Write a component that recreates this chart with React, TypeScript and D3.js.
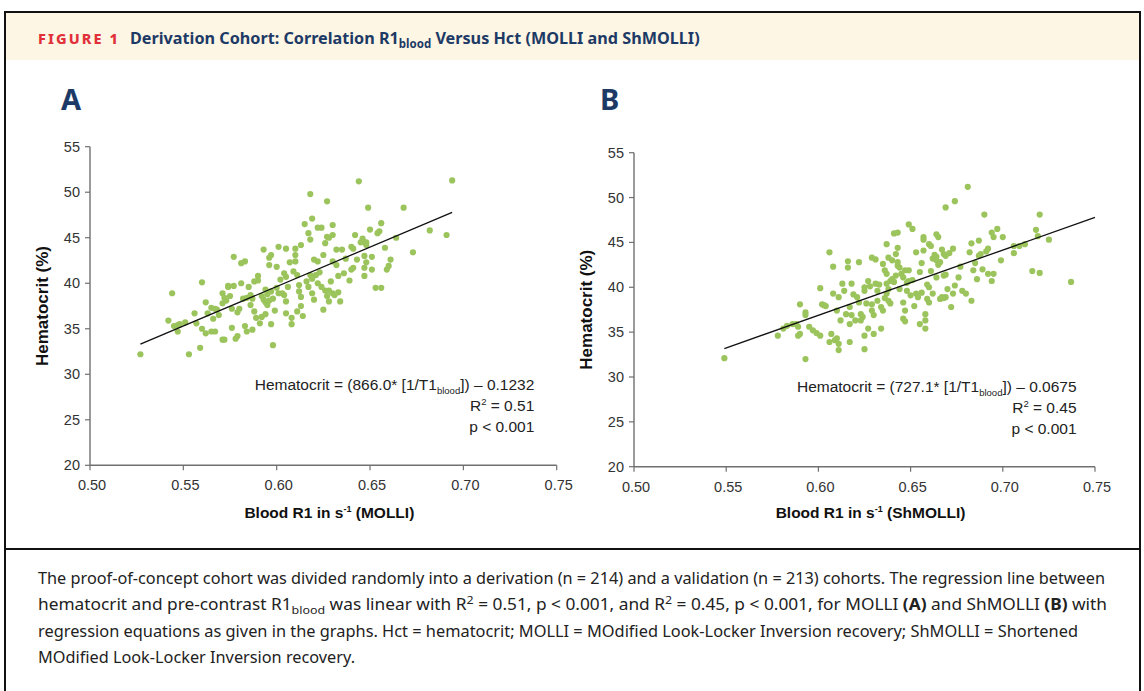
import React from "react";
import * as d3 from "d3";

// ---------- data ----------
const molliR1 = [
  0.527, 0.544, 0.542, 0.545, 0.547, 0.548, 0.547, 0.551, 0.553, 0.559, 0.560, 0.557, 0.560, 0.562, 0.563, 0.565,
  0.567, 0.568, 0.566, 0.565, 0.567, 0.571, 0.572, 0.573, 0.574, 0.571, 0.571, 0.572, 0.577, 0.574, 0.577, 0.576,
  0.578, 0.579, 0.576, 0.580, 0.581, 0.581, 0.583, 0.582, 0.584, 0.583, 0.584, 0.586, 0.587, 0.588, 0.589, 0.587,
  0.590, 0.590, 0.593, 0.592, 0.591, 0.594, 0.595, 0.594, 0.595, 0.596, 0.597, 0.596, 0.597, 0.596, 0.597, 0.598,
  0.601, 0.600, 0.601, 0.603, 0.604, 0.605, 0.604, 0.605, 0.605, 0.605, 0.608, 0.608, 0.610, 0.610, 0.610, 0.613,
  0.612, 0.612, 0.613, 0.613, 0.614, 0.615, 0.617, 0.618, 0.619, 0.618, 0.618, 0.619, 0.621, 0.622, 0.619, 0.620,
  0.622, 0.624, 0.620, 0.622, 0.625, 0.625, 0.627, 0.627, 0.628, 0.626, 0.626, 0.628, 0.627, 0.628, 0.630, 0.630,
  0.630, 0.630, 0.631, 0.632, 0.633, 0.634, 0.635, 0.636, 0.640, 0.641, 0.640, 0.641, 0.642, 0.644, 0.646, 0.647,
  0.648, 0.648, 0.645, 0.647, 0.648, 0.647, 0.647, 0.649, 0.650, 0.651, 0.651, 0.653, 0.656, 0.655, 0.654, 0.656,
  0.658, 0.659, 0.660, 0.661, 0.664, 0.668, 0.673, 0.682, 0.691, 0.694,
  0.569, 0.575, 0.579, 0.585, 0.588, 0.592, 0.593, 0.598, 0.599, 0.602, 0.606, 0.607, 0.609, 0.611, 0.616, 0.617,
  0.623, 0.629, 0.633, 0.637, 0.639, 0.643, 0.562, 0.556, 0.586, 0.594, 0.600, 0.611, 0.624, 0.632,
];
const molliHct = [
  32.2, 38.9, 35.9, 35.3, 35.4, 35.5, 34.7, 35.7, 32.2, 32.9, 40.1, 35.6, 35.0, 34.5, 36.7, 37.3,
  37.2, 37.1, 36.1, 34.7, 34.7, 38.9, 38.4, 38.1, 39.6, 37.8, 33.8, 33.8, 42.9, 39.7, 39.7, 35.1,
  33.9, 34.2, 37.2, 37.2, 40.0, 42.2, 42.4, 38.3, 38.4, 35.3, 34.7, 38.7, 38.3, 36.9, 36.2, 34.9,
  40.8, 40.3, 43.7, 36.3, 35.6, 36.6, 38.8, 37.9, 37.6, 38.1, 39.1, 42.8, 43.1, 42.0, 35.5, 33.2,
  44.0, 39.5, 38.9, 38.9, 38.7, 43.8, 41.1, 40.7, 38.0, 36.7, 35.5, 36.2, 43.8, 43.1, 42.4, 44.2,
  39.8, 39.1, 38.5, 37.5, 36.4, 46.5, 45.5, 49.8, 47.1, 44.8, 40.9, 40.5, 40.9, 40.0, 38.9, 38.2,
  46.1, 46.1, 42.6, 42.4, 37.1, 43.1, 49.0, 45.1, 45.0, 44.4, 39.2, 39.2, 38.6, 38.0, 42.4, 46.4,
  45.3, 38.9, 38.7, 43.7, 40.8, 38.0, 43.7, 41.1, 44.0, 43.8, 41.5, 41.7, 45.3, 51.2, 44.9, 44.5,
  44.2, 44.5, 44.5, 43.0, 42.3, 41.7, 40.8, 48.3, 45.9, 42.9, 41.5, 39.5, 39.5, 45.7, 45.5, 46.6,
  43.9, 41.5, 41.9, 42.6, 45.0, 48.3, 43.4, 45.8, 45.3, 51.3,
  36.5, 38.6, 36.8, 39.6, 40.2, 38.6, 38.2, 38.3, 37.0, 40.4, 39.6, 42.3, 41.3, 40.9, 40.2, 39.6,
  41.2, 40.2, 39.0, 42.7, 40.3, 42.6, 37.9, 36.7, 37.6, 39.3, 41.8, 36.9, 39.6, 42.0,
];

const shmolliR1 = [
  0.549, 0.578, 0.581, 0.583, 0.586, 0.588, 0.589, 0.590, 0.589, 0.590, 0.593, 0.593, 0.593, 0.595, 0.597, 0.599,
  0.601, 0.601, 0.602, 0.603, 0.606, 0.607, 0.606, 0.608, 0.608, 0.610, 0.611, 0.609, 0.610, 0.611, 0.611, 0.612,
  0.613, 0.614, 0.616, 0.616, 0.617, 0.618, 0.617, 0.617, 0.618, 0.620, 0.621, 0.622, 0.622, 0.623, 0.624, 0.623,
  0.625, 0.625, 0.625, 0.625, 0.627, 0.627, 0.629, 0.629, 0.630, 0.629, 0.631, 0.630, 0.631, 0.632, 0.632, 0.634,
  0.635, 0.634, 0.635, 0.636, 0.637, 0.637, 0.637, 0.636, 0.637, 0.638, 0.638, 0.638, 0.640, 0.639, 0.640, 0.641,
  0.641, 0.642, 0.643, 0.643, 0.644, 0.643, 0.643, 0.645, 0.646, 0.647, 0.646, 0.647, 0.646, 0.647, 0.649, 0.649,
  0.649, 0.650, 0.651, 0.652, 0.653, 0.653, 0.654, 0.655, 0.656, 0.657, 0.657, 0.657, 0.658, 0.658, 0.658, 0.659,
  0.660, 0.660, 0.660, 0.661, 0.662, 0.663, 0.664, 0.664, 0.664, 0.665, 0.664, 0.666, 0.666, 0.667, 0.668, 0.669,
  0.668, 0.669, 0.668, 0.669, 0.669, 0.672, 0.673, 0.674, 0.673, 0.676, 0.678, 0.680, 0.681, 0.682, 0.683, 0.683,
  0.685, 0.687, 0.687, 0.688, 0.690, 0.689, 0.692, 0.692, 0.694, 0.695, 0.694, 0.695, 0.697, 0.699, 0.700, 0.706,
  0.706, 0.709, 0.712, 0.716, 0.718, 0.719, 0.720, 0.720, 0.725, 0.737,
  0.604, 0.615, 0.619, 0.626, 0.628, 0.633, 0.639, 0.642, 0.648, 0.651, 0.655, 0.659, 0.662, 0.665, 0.670, 0.671,
  0.674, 0.677, 0.684, 0.686, 0.691, 0.644, 0.648, 0.656, 0.661, 0.667,
];
const shmolliHct = [
  32.1, 34.6, 35.4, 35.7, 35.9, 35.9, 35.6, 34.8, 34.6, 38.1, 37.2, 36.9, 32.0, 35.6, 35.2, 34.9,
  34.6, 39.9, 38.1, 38.0, 43.9, 34.8, 33.9, 42.3, 39.3, 37.4, 38.9, 34.1, 34.3, 33.7, 33.0, 36.3,
  40.4, 39.6, 42.9, 42.2, 37.8, 36.9, 35.9, 33.9, 40.4, 36.3, 38.9, 38.3, 42.8, 37.0, 36.7, 36.3,
  39.6, 40.0, 34.6, 33.1, 35.4, 40.7, 38.1, 37.4, 36.9, 43.3, 43.1, 34.8, 40.4, 39.6, 38.5, 37.8,
  37.4, 35.4, 42.6, 41.9, 41.5, 44.8, 40.4, 38.8, 39.3, 38.5, 43.3, 39.8, 43.0, 40.7, 40.9, 40.6,
  46.0, 43.7, 42.4, 42.8, 42.2, 44.4, 46.1, 41.5, 41.1, 41.9, 38.3, 37.4, 36.5, 36.2, 47.0, 41.9,
  40.7, 39.1, 46.5, 37.9, 43.9, 39.3, 38.9, 35.9, 42.7, 45.6, 45.3, 44.1, 35.4, 36.3, 37.0, 38.7,
  38.3, 40.0, 44.8, 44.6, 43.2, 43.6, 43.4, 43.0, 45.9, 45.6, 41.1, 42.8, 38.7, 38.9, 38.8, 38.9,
  43.7, 43.5, 41.3, 41.4, 48.9, 37.8, 44.3, 49.6, 39.3, 41.1, 39.6, 39.3, 51.2, 43.9, 44.9, 38.5,
  42.7, 45.2, 43.5, 43.7, 48.1, 42.0, 44.3, 41.5, 40.7, 41.5, 46.1, 45.6, 46.5, 43.0, 45.6, 43.8,
  44.6, 44.6, 44.8, 41.8, 46.4, 45.7, 41.6, 48.1, 45.3, 40.6,
  37.9, 37.0, 39.2, 38.2, 40.1, 40.3, 38.2, 41.3, 39.6, 40.8, 41.7, 40.3, 39.3, 42.5, 39.8, 43.8,
  40.2, 42.3, 41.9, 40.9, 44.0, 39.8, 40.5, 39.4, 41.8, 44.2,
];

const xTicks = [0.5, 0.55, 0.6, 0.65, 0.7, 0.75];
const yTicks = [20, 25, 30, 35, 40, 45, 50, 55];
const xTickLabels = ["0.50", "0.55", "0.60", "0.65", "0.70", "0.75"];

// regression coefficients: Hct (fraction) = slope * [1/T1 in ms] + intercept
const molliSlope = 866.0;
const molliIntercept = -0.1232;
const shmolliSlope = 727.1;
const shmolliIntercept = -0.0675;

const DOT = "#9bc45c";
const NAVY = "#1d3a66";
const ARIAL = "'Liberation Sans', Arial, sans-serif";
const BODY = "'Noto Sans', 'Open Sans', sans-serif";

type PanelProps = {
  letter: string;
  letterX: number;
  xs: number[];
  ys: number[];
  slope: number;
  intercept: number;
  xRange: [number, number];
  yRange: [number, number];
  lineEnd: number;
  method: string;
  yTitleX: number;
  annRight: number;
  annBase: number;
  coefText: string;
  interceptText: string;
  r2: string;
};

function Panel(p: PanelProps) {
  const x = d3.scaleLinear().domain([0.5, 0.75]).range(p.xRange);
  const y = d3.scaleLinear().domain([20, 55]).range(p.yRange);
  const reg = (r1: number) => (p.slope * (r1 / 1000) + p.intercept) * 100;
  const x0 = d3.min(p.xs) as number;
  const line = d3.line<number>().x((d) => x(d)).y((d) => y(reg(d)));
  const axisColor = "#707070";
  const left = p.xRange[0];
  const bottom = p.yRange[0];
  const annX = x(p.annRight);
  const annY = y(p.annBase);
  const fs = 15.5;
  return (
    <g>
      <text x={p.letterX} y={110} fontFamily={BODY} fontWeight={700} fontSize={29} fill={NAVY}>
        {p.letter}
      </text>
      {/* axes */}
      <line x1={left} x2={left} y1={p.yRange[1]} y2={bottom} stroke={axisColor} strokeWidth={1.4} />
      <line x1={left} x2={p.xRange[1]} y1={bottom} y2={bottom} stroke={axisColor} strokeWidth={1.4} />
      {yTicks.map((t) => (
        <g key={"y" + t}>
          <line x1={left - 5} x2={left} y1={y(t)} y2={y(t)} stroke={axisColor} strokeWidth={1.2} />
          <text x={left - 10} y={y(t) + 5} textAnchor="end" fontFamily={ARIAL} fontSize={14.5} fill="#333">
            {t}
          </text>
        </g>
      ))}
      {xTicks.map((t, i) => (
        <g key={"x" + t}>
          <line x1={x(t)} x2={x(t)} y1={bottom} y2={bottom + 5} stroke={axisColor} strokeWidth={1.2} />
          <text x={x(t) + 2} y={bottom + 25} textAnchor="middle" fontFamily={ARIAL} fontSize={14.5} fill="#333">
            {xTickLabels[i]}
          </text>
        </g>
      ))}
      {/* points */}
      {p.xs.map((v, i) => (
        <circle key={i} cx={x(v)} cy={y(p.ys[i])} r={3.1} fill={DOT} />
      ))}
      {/* regression line */}
      <path d={line([x0, p.lineEnd]) || ""} stroke="#111" strokeWidth={1.3} fill="none" />
      {/* annotation */}
      <text x={annX} y={annY} textAnchor="end" fontFamily={ARIAL} fontSize={fs} fill="#222">
        {"Hematocrit = (" + p.coefText + "* [1/T1"}
        <tspan fontSize={9.5} dy={4}>blood</tspan>
        <tspan dy={-4}>{"]) \u2013 " + p.interceptText}</tspan>
      </text>
      <text x={annX} y={annY + 21} textAnchor="end" fontFamily={ARIAL} fontSize={fs} fill="#222">
        R<tspan fontSize={9.5} dy={-6}>2</tspan>
        <tspan dy={6}>{" = " + p.r2}</tspan>
      </text>
      <text x={annX} y={annY + 42} textAnchor="end" fontFamily={ARIAL} fontSize={fs} fill="#222">
        {"p < 0.001"}
      </text>
      {/* axis titles */}
      <text
        x={(p.xRange[0] + p.xRange[1]) / 2 + 6}
        y={518}
        textAnchor="middle"
        fontFamily={ARIAL}
        fontWeight={700}
        fontSize={15.5}
        fill="#111"
      >
        {"Blood R1 in s"}
        <tspan fontSize={9} dy={-6}>-1</tspan>
        <tspan dy={6}>{" (" + p.method + ")"}</tspan>
      </text>
      <text
        transform={`translate(${p.yTitleX},${(p.yRange[0] + p.yRange[1]) / 2}) rotate(-90)`}
        textAnchor="middle"
        fontFamily={ARIAL}
        fontWeight={700}
        fontSize={17}
        fill="#111"
      >
        Hematocrit (%)
      </text>
    </g>
  );
}

export default function App() {
  const capX = 38;
  return (
    <svg
      width={1144}
      height={691}
      style={{ position: "absolute", left: 0, top: 0, background: "#fff" }}
      xmlns="http://www.w3.org/2000/svg"
    >
      <rect x={0} y={0} width={1144} height={691} fill="#fff" />
      {/* header */}
      <rect x={6} y={13} width={1133} height={47} fill="#fdf6e4" />
      <rect x={5} y={12} width={1135} height={690} fill="none" stroke="#111" strokeWidth={2} />
      <line x1={5} x2={1140} y1={549} y2={549} stroke="#111" strokeWidth={2} />
      <text x={38} y={44} fontFamily={BODY} fontWeight={800} fontSize={14.5} fill="#e0313b" textLength={80} lengthAdjust="spacing">
        FIGURE 1
      </text>
      <text x={130} y={44} fontFamily={BODY} fontWeight={700} fontSize={16.2} fill={NAVY}>
        Derivation Cohort: Correlation R1<tspan fontSize={11.5} dy={4}>blood</tspan>
        <tspan dy={-4}> Versus Hct (MOLLI and ShMOLLI)</tspan>
      </text>

      <Panel
        letter="A"
        letterX={61}
        xs={molliR1}
        ys={molliHct}
        slope={molliSlope}
        intercept={molliIntercept}
        xRange={[90, 556.7]}
        yRange={[465.3, 146.7]}
        lineEnd={d3.max(molliR1) as number}
        method="MOLLI"
        yTitleX={48}
        annRight={0.738}
        annBase={28.3}
        coefText="866.0"
        interceptText="0.1232"
        r2="0.51"
      />
      <Panel
        letter="B"
        letterX={600}
        xs={shmolliR1}
        ys={shmolliHct}
        slope={shmolliSlope}
        intercept={shmolliIntercept}
        xRange={[634, 1095]}
        yRange={[466.7, 152.7]}
        lineEnd={0.75}
        method="ShMOLLI"
        yTitleX={592}
        annRight={0.740}
        annBase={28.3}
        coefText="727.1"
        interceptText="0.0675"
        r2="0.45"
      />

      {/* caption */}
      <g fontFamily={BODY} fontSize={16} fill="#222">
        <text x={capX} y={584} textLength={1067} lengthAdjust="spacingAndGlyphs">
          The proof-of-concept cohort was divided randomly into a derivation (n = 214) and a validation (n = 213) cohorts. The regression line between
        </text>
        <text x={capX} y={610} textLength={1069} lengthAdjust="spacingAndGlyphs">
          hematocrit and pre-contrast R1<tspan fontSize={11.5} dy={4}>blood</tspan>
          <tspan dy={-4}> was linear with R</tspan>
          <tspan fontSize={11.5} dy={-6}>2</tspan>
          <tspan dy={6}> = 0.51, p {"<"} 0.001, and R</tspan>
          <tspan fontSize={11.5} dy={-6}>2</tspan>
          <tspan dy={6}> = 0.45, p {"<"} 0.001, for MOLLI </tspan>
          <tspan fontWeight={700}>(A)</tspan>
          <tspan> and ShMOLLI </tspan>
          <tspan fontWeight={700}>(B)</tspan>
          <tspan> with</tspan>
        </text>
        <text x={capX} y={637} textLength={1040} lengthAdjust="spacingAndGlyphs">
          regression equations as given in the graphs. Hct = hematocrit; MOLLI = MOdified Look-Locker Inversion recovery; ShMOLLI = Shortened
        </text>
        <text x={capX} y={663} textLength={317} lengthAdjust="spacingAndGlyphs">
          MOdified Look-Locker Inversion recovery.
        </text>
      </g>
    </svg>
  );
}
